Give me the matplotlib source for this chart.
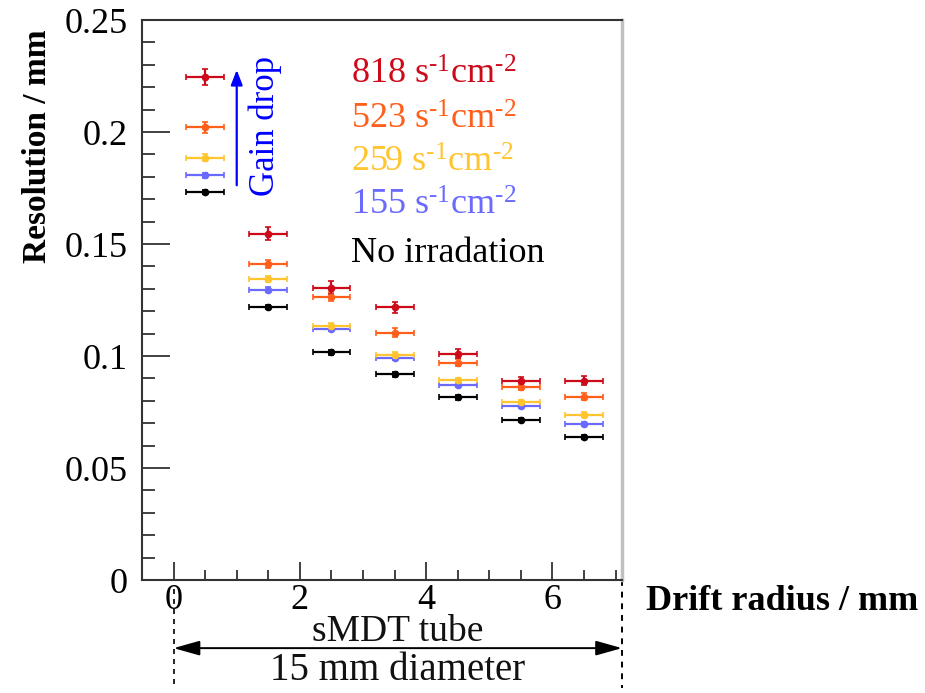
import numpy as np
import matplotlib
matplotlib.use("Agg")
import matplotlib.pyplot as plt
from matplotlib.ticker import MultipleLocator

plt.rcParams["font.family"] = ["Liberation Serif", "DejaVu Serif"]
plt.rcParams["mathtext.fontset"] = "custom"
plt.rcParams["mathtext.rm"] = "Liberation Serif"
plt.rcParams["mathtext.it"] = "Liberation Serif:italic"

# drift radius bin centres (mm) and half widths
radius = [0.5, 1.5, 2.5, 3.5, 4.5, 5.5, 6.5]
radius_err = 0.3

# resolution (mm) per irradiation rate
res_818 = [0.2246, 0.1547, 0.1306, 0.1217, 0.1011, 0.0888, 0.0889]
res_523 = [0.2022, 0.1411, 0.1265, 0.1105, 0.0971, 0.0862, 0.0818]
res_259 = [0.1885, 0.1344, 0.1134, 0.1006, 0.0892, 0.0795, 0.0739]
res_155 = [0.1807, 0.1297, 0.1123, 0.0991, 0.0873, 0.0778, 0.0696]
res_none = [0.1732, 0.1220, 0.1016, 0.0918, 0.0816, 0.0714, 0.0639]

err_818 = [0.0035, 0.003, 0.003, 0.0025, 0.002, 0.002, 0.002]
err_523 = [0.0025, 0.002, 0.002, 0.002, 0.0015, 0.0015, 0.0015]
err_259 = [0.0015, 0.0012, 0.0012, 0.001, 0.001, 0.001, 0.001]
err_155 = [0.0012, 0.001, 0.001, 0.001, 0.001, 0.001, 0.001]
err_none = [0.001, 0.001, 0.001, 0.001, 0.001, 0.001, 0.001]

labels = [r"818 s$^{\text{-}1}$cm$^{\text{-}2}$", r"523 s$^{\text{-}1}$cm$^{\text{-}2}$",
          r"259 s$^{\text{-}1}$cm$^{\text{-}2}$", r"155 s$^{\text{-}1}$cm$^{\text{-}2}$",
          "No irradation"]
colors = ["#cc0a1a", "#ff5f1a", "#ffc42e", "#6a6aff", "#000000"]

tube_radius = 7.1

fig = plt.figure(figsize=(9.25, 6.93), dpi=100)
ax = fig.add_axes([0.1535, 0.163, 0.5189, 0.808])

series = [(res_none, err_none, colors[4]), (res_155, err_155, colors[3]),
          (res_259, err_259, colors[2]), (res_523, err_523, colors[1]),
          (res_818, err_818, colors[0])]
for vals, errs, c in series:
    ax.errorbar(radius, vals, xerr=radius_err, yerr=errs, fmt="o", color=c,
                ms=4.5, elinewidth=1.6, capsize=2, capthick=1.2)

ax.set_xlim(-0.5, tube_radius)
ax.set_ylim(0, 0.25)
ax.xaxis.set_major_locator(MultipleLocator(2))
ax.xaxis.set_minor_locator(MultipleLocator(0.5))
ax.yaxis.set_minor_locator(MultipleLocator(0.01))
ax.set_yticks([0, 0.05, 0.1, 0.15, 0.2, 0.25])
ax.set_yticklabels(["0", "0.05", "0.1", "0.15", "0.2", "0.25"])
ax.tick_params(axis="both", which="both", direction="in", labelsize=26,
               color="#333333", width=1.3)
ax.tick_params(axis="y", which="major", length=20, pad=10)
ax.tick_params(axis="y", which="minor", length=9.5)
ax.tick_params(axis="x", which="major", length=13, pad=3)
ax.tick_params(axis="x", which="minor", length=7)
for side in ["left", "top", "bottom"]:
    ax.spines[side].set_color("#333333")
    ax.spines[side].set_linewidth(1.5)
ax.spines["right"].set_color("#c0c0c0")
ax.spines["right"].set_linewidth(2.5)

# axis titles, ROOT style (y title at the top, x title at the right)
fig.text(0.041, 0.957, "Resolution / mm", fontsize=24, fontweight="bold",
         rotation=90, ha="center", va="top")
fig.text(0.993, 0.132, "Drift radius / mm", fontsize=26, fontweight="bold",
         ha="right", va="center")

# legend-like text block
text_y = [0.2254, 0.2054, 0.186, 0.167, 0.146]
for lab, c, ty in zip(labels, colors, text_y):
    ax.text(2.81, ty, lab, color=c, fontsize=26, va="center", ha="left")

# gain drop arrow
ax.annotate("", xy=(1.0, 0.229), xytext=(1.0, 0.175),
            arrowprops=dict(arrowstyle="-|>,head_length=0.9,head_width=0.35",
                            color="#0000ff", lw=1.6))
ax.text(1.45, 0.2025, "Gain drop", color="#0000ff", fontsize=25,
        rotation=90, ha="center", va="center")

# tube diameter annotation below the axis
ax.plot([0, 0], [-0.004, -0.048], ls=(0, (3, 3)), color="black", lw=1.2,
        clip_on=False)
ax.plot([tube_radius, tube_radius], [0.25, -0.048], ls=(0, (3, 3)),
        color="black", lw=1.4, clip_on=False)
ax.annotate("", xy=(0, -0.0304), xytext=(tube_radius, -0.0304),
            arrowprops=dict(arrowstyle="<|-|>,head_length=1.6,head_width=0.45",
                            color="black", lw=1.4, shrinkA=0, shrinkB=0),
            annotation_clip=False)
ax.text(tube_radius / 2, -0.0232, "sMDT tube", fontsize=27, ha="center",
        va="center", color="#111111", clip_on=False)
ax.text(tube_radius / 2, -0.0405, "15 mm diameter", fontsize=28, ha="center",
        va="center", color="#111111", clip_on=False)

fig.savefig("out.png", dpi=100)
